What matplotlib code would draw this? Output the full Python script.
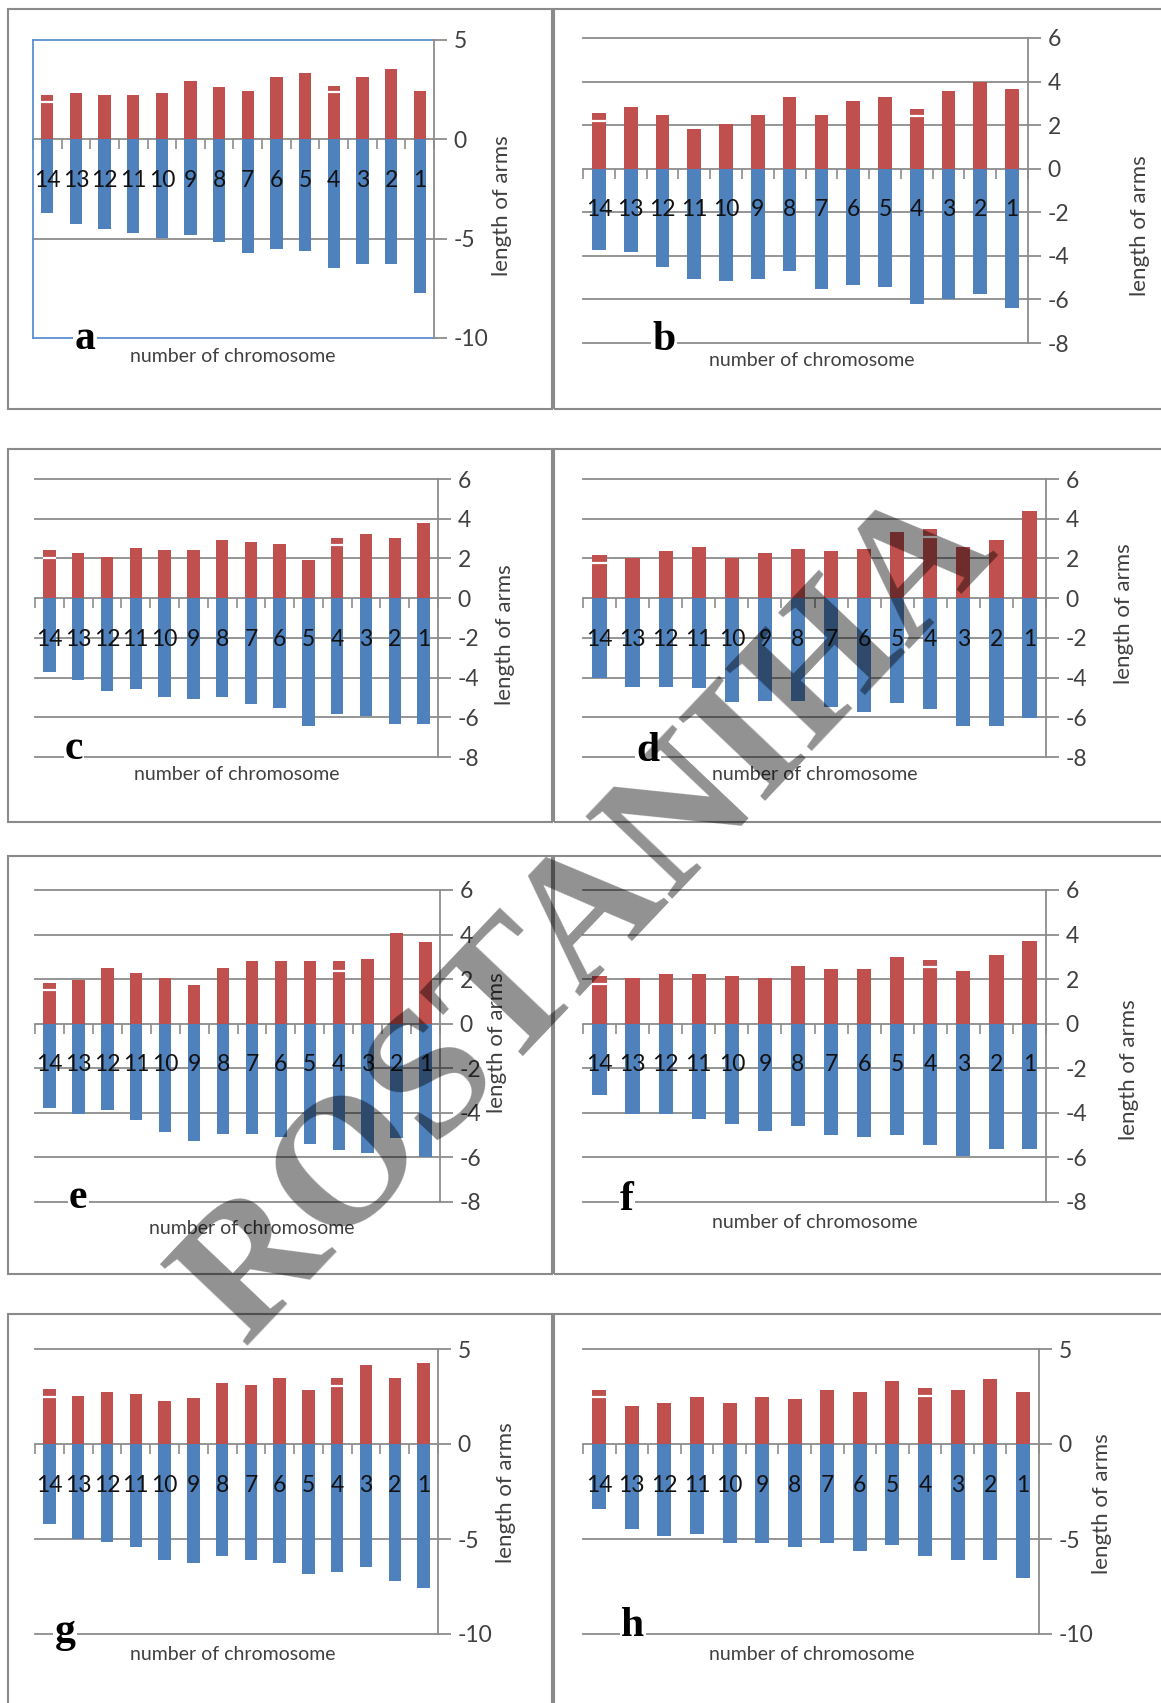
import numpy as np
import matplotlib
matplotlib.use("Agg")
import matplotlib.pyplot as plt
from matplotlib.patches import Rectangle

# ── CONFIG ────────────────────────────────────────────────────────────────────
W, H = 1161, 1703
RED   = "#C0504D"
BLUE  = "#4F81BD"
GRID  = "#8C8C8C"
FRAME = "#5B8FD0"
TXT   = "#404040"

plt.rcParams['font.family'] = ['Lato', 'DejaVu Sans']

# ── DATA ──────────────────────────────────────────────────────────────────────
CHROMOSOMES = ['14', '13', '12', '11', '10', '9', '8', '7', '6', '5', '4', '3', '2', '1']
STRIPE_AT   = ['14', '4']

SHORT_A  = [2.22, 2.35, 2.22, 2.22, 2.35, 2.92, 2.65, 2.45, 3.12, 3.33, 2.68, 3.12, 3.55, 2.45]
LONG_A   = [-3.72, -4.28, -4.50, -4.73, -4.95, -4.83, -5.15, -5.73, -5.53, -5.62, -6.50, -6.28, -6.28, -7.72]
STRIPE_A = [1.90, 2.38]

SHORT_B  = [2.54, 2.85, 2.45, 1.81, 2.07, 2.45, 3.31, 2.45, 3.11, 3.31, 2.76, 3.57, 3.98, 3.68]
LONG_B   = [-3.74, -3.83, -4.50, -5.05, -5.16, -5.05, -4.69, -5.54, -5.34, -5.45, -6.19, -5.96, -5.73, -6.39]
STRIPE_B = [2.19, 2.42]

SHORT_C  = [2.41, 2.29, 2.08, 2.51, 2.41, 2.41, 2.93, 2.81, 2.71, 1.92, 3.05, 3.25, 3.05, 3.80]
LONG_C   = [-3.70, -4.13, -4.66, -4.58, -4.99, -5.09, -4.99, -5.32, -5.52, -6.45, -5.82, -5.95, -6.36, -6.36]
STRIPE_C = [2.00, 2.68]

SHORT_D  = [2.15, 2.03, 2.37, 2.58, 2.03, 2.27, 2.47, 2.37, 2.47, 3.34, 3.46, 2.58, 2.92, 4.41]
LONG_D   = [-4.00, -4.47, -4.47, -4.55, -5.22, -5.18, -5.18, -5.50, -5.72, -5.30, -5.60, -6.43, -6.43, -6.05]
STRIPE_D = [1.76, 3.08]

SHORT_E  = [1.83, 1.98, 2.48, 2.26, 2.06, 1.74, 2.48, 2.81, 2.81, 2.81, 2.81, 2.92, 4.06, 3.65]
LONG_E   = [-3.76, -4.06, -3.85, -4.30, -4.86, -5.26, -4.96, -4.96, -5.08, -5.38, -5.68, -5.79, -5.14, -5.98]
STRIPE_E = [1.50, 2.38]

SHORT_F  = [2.12, 2.03, 2.24, 2.24, 2.13, 2.03, 2.57, 2.46, 2.46, 2.99, 2.88, 2.36, 3.07, 3.73]
LONG_F   = [-3.21, -4.03, -4.03, -4.27, -4.48, -4.82, -4.60, -5.01, -5.10, -5.01, -5.45, -5.94, -5.64, -5.64]
STRIPE_F = [1.79, 2.54]

SHORT_G  = [2.88, 2.52, 2.76, 2.62, 2.28, 2.41, 3.22, 3.09, 3.45, 2.86, 3.45, 4.14, 3.45, 4.26]
LONG_G   = [-4.23, -5.00, -5.18, -5.42, -6.13, -6.25, -5.90, -6.13, -6.25, -6.83, -6.73, -6.48, -7.22, -7.57]
STRIPE_G = [2.48, 3.03]

SHORT_H  = [2.86, 2.02, 2.14, 2.50, 2.14, 2.50, 2.38, 2.86, 2.74, 3.32, 2.96, 2.86, 3.42, 2.74]
LONG_H   = [-3.40, -4.47, -4.82, -4.72, -5.21, -5.21, -5.42, -5.21, -5.65, -5.30, -5.90, -6.13, -6.13, -7.06]
STRIPE_H = [2.47, 2.55]

TICKS_5 = [5, 0, -5, -10]
TICKS_2 = [6, 4, 2, 0, -2, -4, -6, -8]

# letter, short, long, stripes, ticks, plot box px (l, r, t, b), ylabel xy, xlabel xy, letter xy
PANELS = [
    ('a', SHORT_A, LONG_A, STRIPE_A, TICKS_5, (33, 434, 40, 338),   (502, 206),  (233, 357),  (85, 339)),
    ('b', SHORT_B, LONG_B, STRIPE_B, TICKS_2, (583, 1028, 38, 343), (1140, 226), (812, 361),  (664, 340)),
    ('c', SHORT_C, LONG_C, STRIPE_C, TICKS_2, (35, 438, 479, 757),  (505, 635),  (237, 774),  (74, 749)),
    ('d', SHORT_D, LONG_D, STRIPE_D, TICKS_2, (583, 1046, 479, 757), (1124, 614), (815, 774), (648, 751)),
    ('e', SHORT_E, LONG_E, STRIPE_E, TICKS_2, (35, 440, 890, 1202), (497, 1043), (252, 1229), (78, 1198)),
    ('f', SHORT_F, LONG_F, STRIPE_F, TICKS_2, (583, 1046, 890, 1202), (1129, 1070), (815, 1222), (627, 1200)),
    ('g', SHORT_G, LONG_G, STRIPE_G, TICKS_5, (35, 438, 1349, 1634), (506, 1493), (233, 1654), (65, 1632)),
    ('h', SHORT_H, LONG_H, STRIPE_H, TICKS_5, (583, 1039, 1349, 1634), (1102, 1504), (812, 1654), (633, 1626)),
]

# outer boxes (l, r, t, b) px
BOXES = [
    (8, 552, 9, 409), (554, 1166, 9, 409),
    (8, 552, 449, 822), (554, 1166, 449, 822),
    (8, 552, 856, 1274), (554, 1166, 856, 1274),
    (8, 552, 1314, 1710), (554, 1166, 1314, 1710),
]


def fx(x):
    return x / W


def fy(y):
    return 1 - y / H


# ── PLOT ──────────────────────────────────────────────────────────────────────
fig = plt.figure(figsize=(W / 100, H / 100), dpi=100)

for l, r, t, b in BOXES:
    fig.patches.append(Rectangle((fx(l), fy(b)), fx(r - l), (b - t) / H,
                                 transform=fig.transFigure, fill=False,
                                 edgecolor='#8A8A8A', linewidth=1.5, zorder=0))

bar_w = 0.43
x = np.arange(len(CHROMOSOMES))

for letter, short, long_, stripes, ticks, box, ylab, xlab, let in PANELS:
    l, r, t, b = box
    ax = fig.add_axes([fx(l), fy(b), fx(r - l), (b - t) / H])
    ax.set_facecolor('none')
    ymax, ymin = ticks[0], ticks[-1]

    for tv in ticks:
        if tv == 0:
            continue
        c = GRID
        if letter == 'a' and tv in (ymax, ymin):
            c = FRAME
        ax.axhline(tv, color=c, lw=1.3, zorder=0, clip_on=False)

    ax.bar(x, short, width=bar_w, color=RED, zorder=1)
    ax.bar(x, long_, width=bar_w, color=BLUE, zorder=1)
    sx = np.array([CHROMOSOMES.index(s) for s in STRIPE_AT])
    ax.hlines(stripes, sx - bar_w / 2, sx + bar_w / 2, color='white', lw=1.6, zorder=1.2)

    ax.set_xlim(-0.5, len(CHROMOSOMES) - 0.5)
    ax.set_ylim(ymin, ymax)

    for side in ('left', 'top'):
        ax.spines[side].set_visible(False)
    if letter == 'a':
        ax.spines['left'].set_visible(True)
        ax.spines['left'].set_color(FRAME)
        ax.spines['left'].set_linewidth(1.3)
    ax.spines['right'].set_color(GRID)
    ax.spines['right'].set_linewidth(1.3)
    ax.spines['bottom'].set_position(('data', 0))
    ax.spines['bottom'].set_color(GRID)
    ax.spines['bottom'].set_linewidth(1.3)
    ax.spines['bottom'].set_zorder(0.8)

    ax.set_xticks(x)
    ax.set_xticklabels(CHROMOSOMES)
    ax.set_xticks(np.arange(-0.5, len(CHROMOSOMES), 1), minor=True)
    ax.tick_params(axis='x', which='major', length=0, pad=22, labelsize=16.5, labelcolor='#111111')
    ax.tick_params(axis='x', which='minor', length=7, width=1.2, color=GRID, direction='out')

    ax.yaxis.tick_right()
    ax.set_yticks(ticks)
    ax.set_yticklabels([str(tv) for tv in ticks])
    ax.tick_params(axis='y', length=9, width=1.3, color=GRID, direction='out', pad=5,
                   labelsize=16.5, labelcolor=TXT)

    fig.text(fx(ylab[0]), fy(ylab[1]), "length of arms", rotation=90, ha='center', va='center',
             fontsize=16, color=TXT)
    fig.text(fx(xlab[0]), fy(xlab[1]), "number of chromosome", ha='center', va='center',
             fontsize=14, color=TXT)
    fig.text(fx(let[0]), fy(let[1]), letter, ha='center', va='center', fontsize=30,
             family=['Liberation Serif', 'DejaVu Serif'], weight='bold', color='black',
             bbox=dict(facecolor='white', edgecolor='none', pad=1))

# watermark
fig.text(fx(590), fy(918), "ROSTANIHA", rotation=46.5, rotation_mode='anchor',
         ha='center', va='center', fontsize=132, family=['Liberation Serif', 'DejaVu Serif'],
         weight='bold', color='black', alpha=0.43, zorder=10)

fig.savefig("out.png", dpi=100, facecolor='white')
